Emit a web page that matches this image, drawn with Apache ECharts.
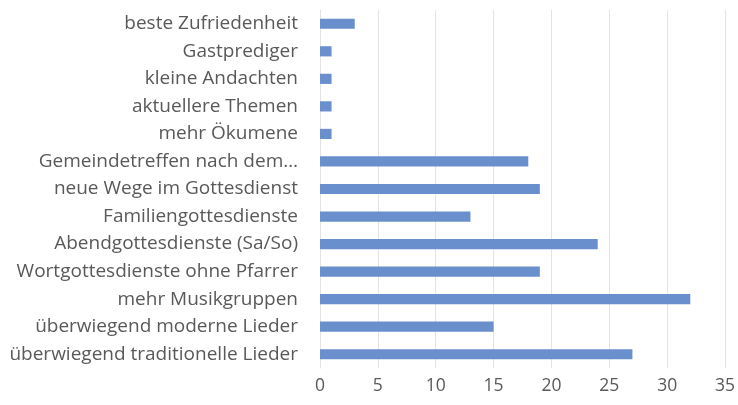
<!DOCTYPE html>
<html><head><meta charset="utf-8">
<script src="https://cdn.jsdelivr.net/npm/echarts@6/dist/echarts.min.js"></script>
<style>html,body{margin:0;padding:0;background:#fff}#c{width:738px;height:405px}</style>
</head><body><div id="c"></div>
<script>
const categories = [
  "überwiegend traditionelle Lieder",
  "überwiegend moderne Lieder",
  "mehr Musikgruppen",
  "Wortgottesdienste ohne Pfarrer",
  "Abendgottesdienste (Sa/So)",
  "Familiengottesdienste",
  "neue Wege im Gottesdienst",
  "Gemeindetreffen nach dem…",
  "mehr Ökumene",
  "aktuellere Themen",
  "kleine Andachten",
  "Gastprediger",
  "beste Zufriedenheit"
];
const values = [27, 15, 32, 19, 24, 13, 19, 18, 1, 1, 1, 1, 3];
const xTicks = [0, 5, 10, 15, 20, 25, 30, 35];

const chart = echarts.init(document.getElementById('c'), null, {renderer: 'canvas'});
chart.setOption({
  animation: false,
  grid: {left: 320, right: 13, top: 10, bottom: 37, containLabel: false},
  xAxis: {
    type: 'value', min: xTicks[0], max: xTicks[xTicks.length-1], interval: 5,
    axisLine: {show: false}, axisTick: {show: false},
    splitLine: {lineStyle: {color: '#e3e3e3', width: 1}},
    axisLabel: {color: '#595959', fontSize: 17.5, fontFamily: 'Open Sans', margin: 9}
  },
  yAxis: {
    type: 'category', data: categories,
    axisLine: {show: true, lineStyle: {color: '#e3e3e3'}}, axisTick: {show: false},
    axisLabel: {color: '#595959', fontSize: 19, fontFamily: 'Open Sans', margin: 22}
  },
  series: [{
    type: 'bar', data: values, barWidth: '37%',
    itemStyle: {color: '#6a8fcd'}
  }]
});
</script></body></html>
